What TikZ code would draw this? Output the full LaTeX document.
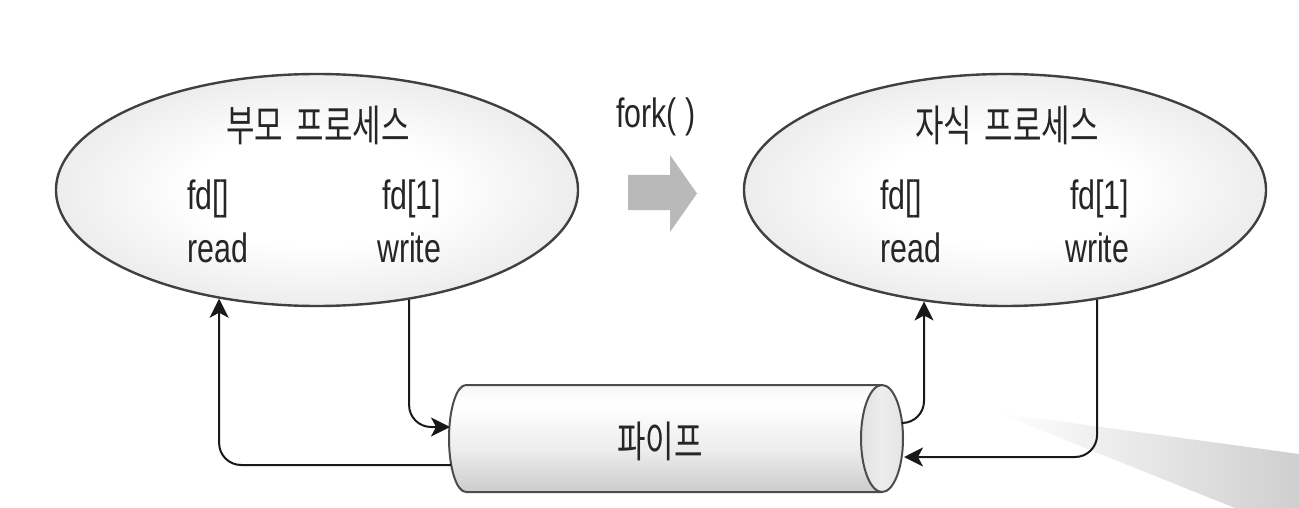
\documentclass[tikz,border=0pt]{standalone}
\usepackage{fontspec}
\setmainfont{Liberation Sans}[FakeStretch=0.74]
\newfontfamily\kr{Noto Sans CJK KR}[FakeStretch=0.72,WordSpace=1.8]
\usetikzlibrary{shapes.geometric,arrows.meta}
\pgfdeclareradialshading{procshade}{\pgfpoint{0bp}{0bp}}{color(0bp)=(white); color(12bp)=(white); color(50bp)=(gray!42)}
\pgfdeclareverticalshading{pipeshade}{100bp}{color(0bp)=(gray!40); color(10bp)=(gray!60); color(45bp)=(gray!14); color(66bp)=(white); color(84bp)=(gray!14); color(100bp)=(gray!40)}
\pgfdeclarehorizontalshading{capshade}{100bp}{color(0bp)=(gray!32); color(50bp)=(gray!14); color(100bp)=(gray!28)}
\tikzset{
  proc/.style={ellipse, draw=black!75, line width=2.4pt, shading=procshade, minimum width=522pt, minimum height=232pt, inner sep=0pt},
  lbl/.style={inner sep=0pt, font=\fontsize{41}{48}\selectfont, text=black!85},
  ttl/.style={inner sep=0pt, font=\fontsize{43}{50}\selectfont\kr, text=black!85},
  conn/.style={draw=black!90, line width=2pt, rounded corners=22pt, -{Stealth[length=19pt,width=19pt,inset=5pt]}},
  pipeline/.style={draw=black!70, line width=2pt}
}
\begin{document}
\begin{tikzpicture}[x=1pt,y=-1pt]
\useasboundingbox (0,0) rectangle (1299,508);
\fill[white] (0,0) rectangle (1299,508);
% faint shadow wedge
\shade[left color=white, right color=gray!38] (998,413) -- (1299,454) -- (1299,508) -- (1235,508) -- cycle;
% processes
\node[proc] (L) at (317,190) {};
\node[proc] (R) at (1005,190) {};
\node[ttl] (Lt) at (318,125) {부모 프로세스};
\node[ttl] (Rt) at (1007,125) {자식 프로세스};
\node[lbl, anchor=base west] (Lfd0) at (187,209) {fd[]};
\node[lbl, anchor=base west] (Lrd) at (187,262) {read};
\node[lbl, anchor=base west] (Lfd1) at (382,209) {fd[1]};
\node[lbl, anchor=base west] (Lwr) at (377,262) {write};
\node[lbl, anchor=base west] (Rfd0) at (880,209) {fd[]};
\node[lbl, anchor=base west] (Rrd) at (880,262) {read};
\node[lbl, anchor=base west] (Rfd1) at (1070,209) {fd[1]};
\node[lbl, anchor=base west] (Rwr) at (1065,262) {write};
% fork
\node[lbl, anchor=base west] (fork) at (616,128) {fork( )};
\fill[gray!55] (628,175) -- (670,175) -- (670,155) -- (697,193.5) -- (670,232) -- (670,210) -- (628,210) -- cycle;
% pipe
\shade[shading=pipeshade] (882,385) -- (466,385) arc[start angle=270, end angle=90, x radius=17, y radius=53.5] -- (882,492) arc[start angle=90, end angle=-90, x radius=21, y radius=53.5] -- cycle;
\draw[pipeline] (882,385) -- (466,385) arc[start angle=270, end angle=90, x radius=17, y radius=53.5] -- (882,492);
\shade[shading=capshade] (882,438.5) ellipse[x radius=21, y radius=53.5];
\draw[pipeline] (882,438.5) ellipse[x radius=21, y radius=53.5];
\node[ttl] (pipe) at (660,441) {파이프};
\coordinate (pL1) at (451,465);
\coordinate (pL2) at (450,427);
\coordinate (pR1) at (903,423);
\coordinate (pR2) at (904,457);
% connectors
\draw[conn] (pL1) -| (L.228.7);
\draw[conn] (L.310.3) |- (pL2);
\draw[conn] (pR1) -| (R.234.8);
\draw[conn] (R.310.6) |- (pR2);
\end{tikzpicture}
\end{document}
